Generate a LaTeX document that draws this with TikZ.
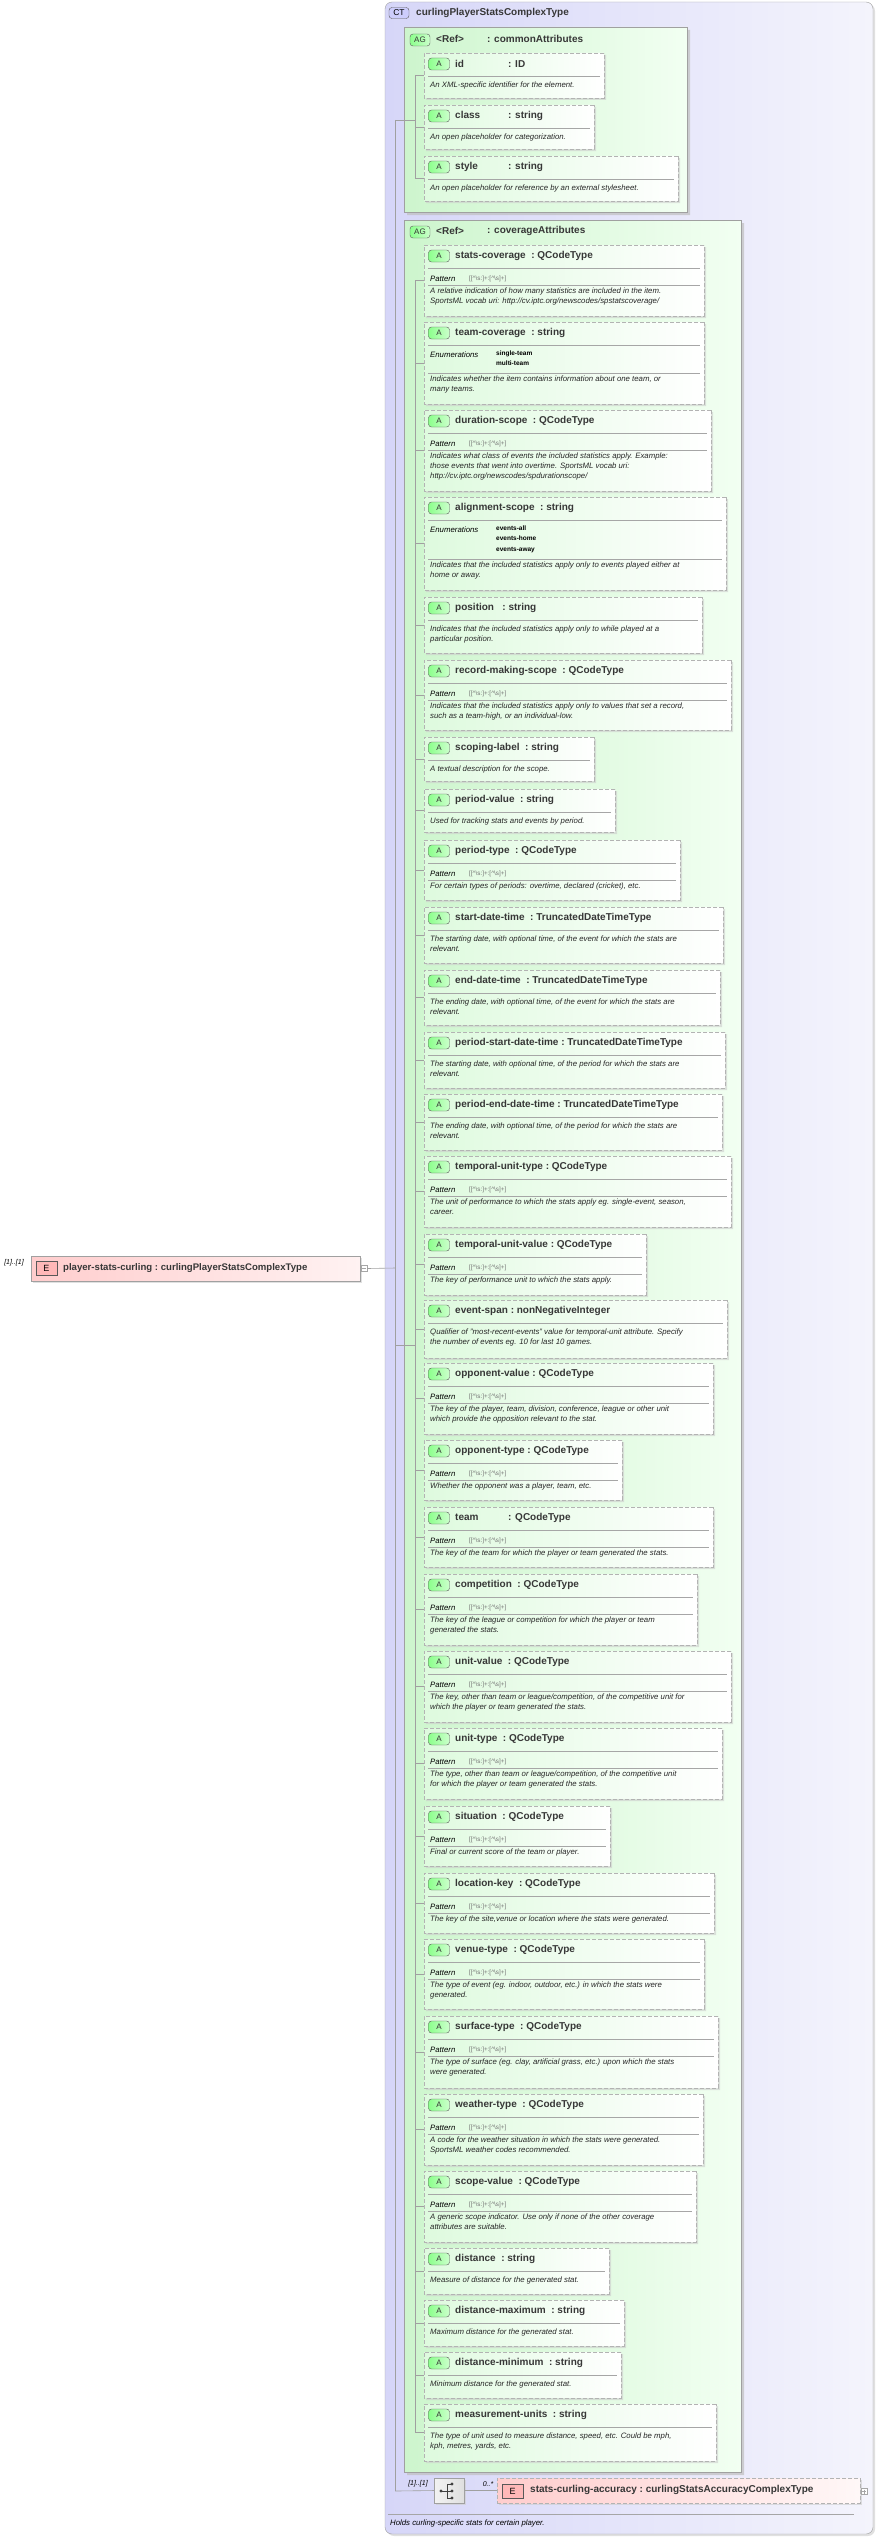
\documentclass[tikz,border=0pt]{standalone}
\usepackage{fontspec}
\setmainfont{Liberation Sans}
\usetikzlibrary{shapes.misc,shadows}
\definecolor{ctl}{RGB}{214,214,248}
\definecolor{ctr}{RGB}{244,244,252}
\definecolor{agl}{RGB}{205,245,205}
\definecolor{agr}{RGB}{242,255,242}
\definecolor{atl}{RGB}{222,250,222}
\definecolor{hdrc}{RGB}{55,55,55}
\definecolor{pinkl}{RGB}{255,205,205}
\definecolor{pinkr}{RGB}{255,242,242}
\definecolor{edge}{RGB}{160,160,160}
\tikzset{
 conn/.style={draw=edge,line width=0.6pt},
 abox/.style={chamfered rectangle,chamfered rectangle corners={north west,south west},chamfered rectangle xsep=6pt,chamfered rectangle ysep=6pt,
   draw=edge!80,dash pattern=on 4pt off 2pt,left color=atl,right color=white,inner sep=0pt,
   drop shadow={shadow xshift=2pt,shadow yshift=-2pt,fill=gray!40,opacity=0.6}},
 agbox/.style={chamfered rectangle,chamfered rectangle corners={north west,south west},chamfered rectangle xsep=10pt,chamfered rectangle ysep=10pt,
   draw=edge,left color=agl,right color=agr,inner sep=0pt,
   drop shadow={shadow xshift=3pt,shadow yshift=-3pt,fill=gray!50,opacity=0.7}},
 aicon/.style={draw=gray!70!black,rounded corners=3pt,left color=green!45!white,right color=green!20!white,minimum width=21pt,minimum height=12pt,inner sep=0pt,font=\fontsize{8}{8}\selectfont,text=black!80},
 hdr/.style={anchor=west,inner sep=0pt,font=\bfseries\fontsize{10}{10}\selectfont,text=hdrc},
 desc/.style={anchor=north west,inner sep=0pt,align=left,font=\itshape\fontsize{7.8}{10}\selectfont,text=black!85},
 patl/.style={anchor=west,inner sep=0pt,font=\itshape\fontsize{7.8}{10}\selectfont},
 patv/.style={anchor=west,inner sep=0pt,font=\fontsize{6.3}{8}\selectfont,text=gray!90!black},
 enumv/.style={anchor=north west,inner sep=0pt,align=left,font=\bfseries\fontsize{6.5}{10.3}\selectfont},
 sepl/.style={draw=gray!70,line width=0.6pt},
 mult/.style={inner sep=0pt,font=\itshape\fontsize{7}{7}\selectfont},
 eicon/.style={draw=gray!70!black,fill=pinkl!90!red,minimum width=21pt,minimum height=14pt,inner sep=0pt,font=\fontsize{9}{9}\selectfont},
 pm/.style={draw=gray!70,fill=white,minimum size=6pt,inner sep=0pt}
}
\newcommand\PAT{[[\textasciicircum\textbackslash s:]+:[\textasciicircum\textbackslash s]+]}
% #1 top #2 bottom #3 right #4 id #5 header #6 kind #7 enum #8 desc
\newcommand\attrbox[8]{%
 \pgfmathsetmacro\aw{#3-424}\pgfmathsetmacro\ah{#2-#1}%
 \pgfmathsetmacro\acx{(#3+424)/2}\pgfmathsetmacro\acy{(#1+#2)/2}%
 \node[abox,minimum width=\aw pt,minimum height=\ah pt] (a-#4) at (\acx,\acy) {};
 \node[aicon] (ai-#4) at (439,#1+11) {A};
 \node[hdr] (ah-#4) at (455,#1+11) {#5};
 \draw[sepl] (428,#1+23) -- (#3-4,#1+23);
 \ifcase#6
   \node[desc] (ad-#4) at (430,#1+29) {#8};
 \or
   \node[patl] (ap-#4) at (430,#1+34) {Pattern};
   \node[patv] (apv-#4) at (469,#1+34) {\PAT};
   \draw[sepl] (428,#1+40) -- (#3-4,#1+40);
   \node[desc] (ad-#4) at (430,#1+43) {#8};
 \or
   \node[patl] (ap-#4) at (430,#1+33) {Enumerations};
   \node[enumv] (ae-#4) at (496,#1+28.5) {#7};
   \draw[sepl] (428,#1+51) -- (#3-4,#1+51);
   \node[desc] (ad-#4) at (430,#1+54) {#8};
 \or
   \node[patl] (ap-#4) at (430,#1+33) {Enumerations};
   \node[enumv] (ae-#4) at (496,#1+28.5) {#7};
   \draw[sepl] (428,#1+62) -- (#3-4,#1+62);
   \node[desc] (ad-#4) at (430,#1+65) {#8};
 \fi
 \draw[conn] (415,\acy) -- (a-#4.west);
}
\begin{document}
\begin{tikzpicture}[x=1pt,y=-1pt]
\useasboundingbox (0,0) rectangle (877,2537);
% complex type
\node[draw=edge,rounded corners=7pt,left color=ctl,right color=ctr,minimum width=488pt,minimum height=2532pt,inner sep=0pt,
  drop shadow={shadow xshift=2pt,shadow yshift=-2pt,fill=gray!40,opacity=0.6}] (ct) at (629,1268) {};
\node[draw=gray!70!black,rounded corners=3pt,fill=ctl!80!blue!60,minimum width=20pt,minimum height=11pt,inner sep=0pt,font=\fontsize{8.5}{8.5}\selectfont] (cti) at (399,13) {CT};
\node[hdr] (ctt) at (416,13) {curlingPlayerStatsComplexType};
% attribute groups
\node[agbox,minimum width=283pt,minimum height=185pt] (ag1) at (545.5,119.5) {};
\node[aicon,minimum width=20pt] (ag1i) at (420,40) {AG};
\node[hdr] (ag1r) at (436,39) {<Ref>};
\node[hdr] (ag1t) at (487,39) {: commonAttributes};
\node[agbox,minimum width=337pt,minimum height=2252pt] (ag2) at (572.5,1346) {};
\node[aicon,minimum width=20pt] (ag2i) at (420,232) {AG};
\node[hdr] (ag2r) at (436,231) {<Ref>};
\node[hdr] (ag2t) at (487,231) {: coverageAttributes};
% connectors skeleton
\coordinate (m1) at (395,120); \coordinate (m2) at (395,1345); \coordinate (mr) at (395,1268); \coordinate (mb) at (395,2491);
\coordinate (g1) at (415,120); \coordinate (g2) at (415,1345);
\draw[conn] (m1) -- (mb);
\draw[conn] (m1) -- (g1); \draw[conn] (m2) -- (g2);
\draw[conn] (415,75) -- (415,178);
\draw[conn] (415,281) -- (415,2432);
% common attributes
\attrbox{53}{98}{604}{id}{\makebox[53pt][l]{id}: ID}{0}{}{An XML-specific identifier for the element.}
\attrbox{105}{149}{594}{class}{\makebox[53pt][l]{class}: string}{0}{}{An open placeholder for categorization.}
\attrbox{156}{201}{678}{style}{\makebox[53pt][l]{style}: string}{0}{}{An open placeholder for reference by an external stylesheet.}
% coverage attributes
\attrbox{245}{316}{704}{stats-coverage}{stats-coverage\ \ :\ QCodeType}{1}{}{A relative indication of how many statistics are included in the item.\\SportsML vocab uri: http://cv.iptc.org/newscodes/spstatscoverage/}
\attrbox{322}{404}{704}{team-coverage}{team-coverage\ \ :\ string}{2}{single-team\\multi-team}{Indicates whether the item contains information about one team, or\\many teams.}
\attrbox{410}{491}{711}{duration-scope}{duration-scope\ \ :\ QCodeType}{1}{}{Indicates what class of events the included statistics apply. Example:\\those events that went into overtime. SportsML vocab uri:\\http://cv.iptc.org/newscodes/spdurationscope/}
\attrbox{497}{590}{726}{alignment-scope}{alignment-scope\ \ :\ string}{3}{events-all\\events-home\\events-away}{Indicates that the included statistics apply only to events played either at\\home or away.}
\attrbox{597}{653}{702}{position}{position\ \ \ :\ string}{0}{}{Indicates that the included statistics apply only to while played at a\\particular position.}
\attrbox{660}{730}{731}{record-making-scope}{record-making-scope\ \ :\ QCodeType}{1}{}{Indicates that the included statistics apply only to values that set a record,\\such as a team-high, or an individual-low.}
\attrbox{737}{781}{594}{scoping-label}{scoping-label\ \ :\ string}{0}{}{A textual description for the scope.}
\attrbox{789}{832}{615}{period-value}{period-value\ \ :\ string}{0}{}{Used for tracking stats and events by period.}
\attrbox{840}{900}{680}{period-type}{period-type\ \ :\ QCodeType}{1}{}{For certain types of periods: overtime, declared (cricket), etc.}
\attrbox{907}{963}{723}{start-date-time}{start-date-time\ \ :\ TruncatedDateTimeType}{0}{}{The starting date, with optional time, of the event for which the stats are\\relevant.}
\attrbox{970}{1025}{720}{end-date-time}{end-date-time\ \ :\ TruncatedDateTimeType}{0}{}{The ending date, with optional time, of the event for which the stats are\\relevant.}
\attrbox{1032}{1088}{725}{period-start-date-time}{period-start-date-time\ :\ TruncatedDateTimeType}{0}{}{The starting date, with optional time, of the period for which the stats are\\relevant.}
\attrbox{1094}{1150}{722}{period-end-date-time}{period-end-date-time\ :\ TruncatedDateTimeType}{0}{}{The ending date, with optional time, of the period for which the stats are\\relevant.}
\attrbox{1156}{1227}{731}{temporal-unit-type}{temporal-unit-type\ :\ QCodeType}{1}{}{The unit of performance to which the stats apply eg. single-event, season,\\career.}
\attrbox{1234}{1295}{646}{temporal-unit-value}{temporal-unit-value\ :\ QCodeType}{1}{}{The key of performance unit to which the stats apply.}
\attrbox{1300}{1358}{727}{event-span}{event-span\ :\ nonNegativeInteger}{0}{}{Qualifier of "most-recent-events" value for temporal-unit attribute. Specify\\the number of events eg. 10 for last 10 games.}
\attrbox{1363}{1434}{713}{opponent-value}{opponent-value\ :\ QCodeType}{1}{}{The key of the player, team, division, conference, league or other unit\\which provide the opposition relevant to the stat.}
\attrbox{1440}{1500}{622}{opponent-type}{opponent-type\ :\ QCodeType}{1}{}{Whether the opponent was a player, team, etc.}
\attrbox{1507}{1567}{713}{team}{\makebox[53pt][l]{team}: QCodeType}{1}{}{The key of the team for which the player or team generated the stats.}
\attrbox{1574}{1645}{697}{competition}{competition\ \ :\ QCodeType}{1}{}{The key of the league or competition for which the player or team\\generated the stats.}
\attrbox{1651}{1722}{731}{unit-value}{unit-value\ \ :\ QCodeType}{1}{}{The key, other than team or league/competition, of the competitive unit for\\which the player or team generated the stats.}
\attrbox{1728}{1799}{722}{unit-type}{unit-type\ \ :\ QCodeType}{1}{}{The type, other than team or league/competition, of the competitive unit\\for which the player or team generated the stats.}
\attrbox{1806}{1866}{610}{situation}{situation\ \ :\ QCodeType}{1}{}{Final or current score of the team or player.}
\attrbox{1873}{1933}{714}{location-key}{location-key\ \ :\ QCodeType}{1}{}{The key of the site,venue or location where the stats were generated.}
\attrbox{1939}{2009}{704}{venue-type}{venue-type\ \ :\ QCodeType}{1}{}{The type of event (eg. indoor, outdoor, etc.) in which the stats were\\generated.}
\attrbox{2016}{2088}{718}{surface-type}{surface-type\ \ :\ QCodeType}{1}{}{The type of surface (eg. clay, artificial grass, etc.) upon which the stats\\were generated.}
\attrbox{2094}{2165}{703}{weather-type}{weather-type\ \ :\ QCodeType}{1}{}{A code for the weather situation in which the stats were generated.\\SportsML weather codes recommended.}
\attrbox{2171}{2242}{696}{scope-value}{scope-value\ \ :\ QCodeType}{1}{}{A generic scope indicator. Use only if none of the other coverage\\attributes are suitable.}
\attrbox{2248}{2294}{609}{distance}{distance\ \ :\ string}{0}{}{Measure of distance for the generated stat.}
\attrbox{2300}{2346}{624}{distance-maximum}{distance-maximum\ \ :\ string}{0}{}{Maximum distance for the generated stat.}
\attrbox{2352}{2398}{621}{distance-minimum}{distance-minimum\ \ :\ string}{0}{}{Minimum distance for the generated stat.}
\attrbox{2404}{2461}{716}{measurement-units}{measurement-units\ \ :\ string}{0}{}{The type of unit used to measure distance, speed, etc. Could be mph,\\kph, metres, yards, etc.}
% root element
\node[draw=edge,left color=pinkl,right color=pinkr,minimum width=329pt,minimum height=25pt,inner sep=0pt,
  drop shadow={shadow xshift=2pt,shadow yshift=-2pt,fill=gray!40,opacity=0.6}] (root) at (195.5,1268.5) {};
\node[eicon] (rooti) at (46.5,1268.5) {E};
\node[hdr,font=\bfseries\fontsize{9.6}{10}\selectfont] (roott) at (63,1268) {player-stats-curling\ :\ curlingPlayerStatsComplexType};
\node[mult] (rootm) at (14,1263) {[1]..[1]};
\node[pm] (rootpm) at (364,1268.5) {};
\draw[gray!70] (362,1268.5) -- (366,1268.5);
\draw[conn] (rootpm.east) -- (mr);
% sequence and child element
\node[draw=edge,left color=gray!10,right color=gray!25,minimum width=30pt,minimum height=25pt,inner sep=0pt,
  drop shadow={shadow xshift=2pt,shadow yshift=-2pt,fill=gray!40,opacity=0.6}] (seq) at (449,2490.5) {};
\draw[conn] (mb) -- (seq.west);
\node[mult] (seqm) at (418,2484) {[1]..[1]};
\fill[black!75] (441,2491) circle (1.6pt) (452,2484) circle (1.6pt) (452,2491) circle (1.6pt) (452,2498) circle (1.6pt);
\draw[black!75,line width=0.8pt] (441,2491) -- (447,2491) (447,2484) -- (447,2498) (447,2484) -- (452,2484) (447,2491) -- (452,2491) (447,2498) -- (452,2498);
\node[draw=edge!80,dash pattern=on 4pt off 2pt,left color=pinkl,right color=pinkr!60!white,minimum width=363pt,minimum height=25pt,inner sep=0pt,
  drop shadow={shadow xshift=2pt,shadow yshift=-2pt,fill=gray!40,opacity=0.6}] (sca) at (678.5,2490.5) {};
\draw[conn] (seq.east) -- (sca.west);
\node[mult] (scam) at (488,2484) {0..*};
\node[eicon] (scai) at (512.5,2491) {E};
\node[hdr] (scat) at (530,2490) {stats-curling-accuracy\ :\ curlingStatsAccuracyComplexType};
\node[pm] (scapm) at (864,2491.5) {};
\draw[gray!70] (862,2491.5) -- (866,2491.5) (864,2489.5) -- (864,2493.5);
% footer
\draw[sepl] (388,2514) -- (854,2514);
\node[anchor=west,inner sep=0pt,font=\itshape\fontsize{7.8}{10}\selectfont] (ctd) at (390,2523) {Holds curling-specific stats for certain player.};
\end{tikzpicture}
\end{document}
